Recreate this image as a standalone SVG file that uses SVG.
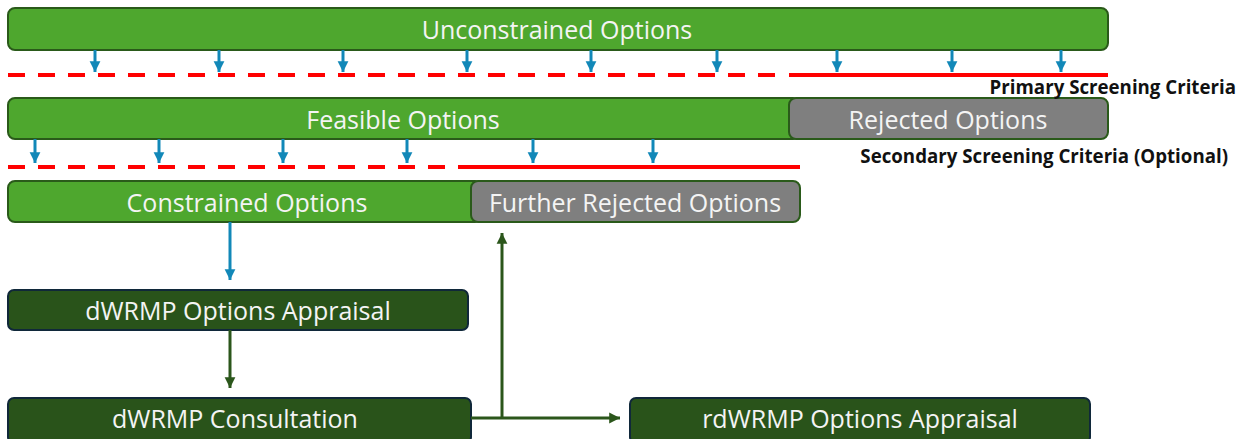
<svg xmlns="http://www.w3.org/2000/svg" width="1242" height="439" viewBox="0 0 1242 439">
<defs>
<marker id="ab" viewBox="0 0 10 10" refX="10" refY="5" markerWidth="3.6" markerHeight="4" markerUnits="strokeWidth" orient="auto"><path d="M0,0 L10,5 L0,10 z" fill="#1288b8"/></marker>
<marker id="ag" viewBox="0 0 10 10" refX="10" refY="5" markerWidth="3.6" markerHeight="4" markerUnits="strokeWidth" orient="auto"><path d="M0,0 L10,5 L0,10 z" fill="#2b561b"/></marker>
</defs>
<style>
.g{fill:#4ea72e;stroke:#2a5a1a;stroke-width:2}
.r{fill:#7f7f7f;stroke:#2a5a1a;stroke-width:2}
.d{fill:#29531a;stroke:#10283a;stroke-width:2}
.t{font-family:"Open Sans","Liberation Sans",sans-serif;font-size:25px;fill:#f4f4f4;text-anchor:middle;dominant-baseline:central}
.c{font-family:"Open Sans","Liberation Sans",sans-serif;font-size:18.7px;font-weight:bold;fill:#111}
.b{stroke:#1288b8;stroke-width:3;fill:none;marker-end:url(#ab)}
.k{stroke:#2b561b;stroke-width:3;fill:none}
.rd{stroke:#ff0000;stroke-width:4;fill:none}
</style>
<g id="unconstrained"><rect class="g" x="8" y="8" width="1100" height="42" rx="7"/><text class="t" x="557" y="29">Unconstrained Options</text></g>
<g id="feasible"><rect class="g" x="8" y="98" width="792" height="41" rx="7"/><text class="t" x="403" y="119">Feasible Options</text></g>
<g id="rejected"><rect class="r" x="789" y="98" width="319" height="41" rx="7"/><text class="t" x="948" y="119">Rejected Options</text></g>
<g id="constrained"><rect class="g" x="8" y="181" width="474" height="41" rx="7"/><text class="t" x="247" y="202">Constrained Options</text></g>
<g id="further-rejected"><rect class="r" x="471" y="181" width="329" height="41" rx="7"/><text class="t" x="635" y="202">Further Rejected Options</text></g>
<g id="appraisal"><rect class="d" x="8" y="290" width="460" height="40" rx="6"/><text class="t" x="238" y="310" font-size="24.5">dWRMP Options Appraisal</text></g>
<g id="consultation"><rect class="d" x="8" y="398" width="463" height="45" rx="6"/><text class="t" x="235" y="418" font-size="24.5">dWRMP Consultation</text></g>
<g id="rdwrmp"><rect class="d" x="630" y="398" width="460" height="45" rx="6"/><text class="t" x="860" y="418" font-size="24.5">rdWRMP Options Appraisal</text></g>
<g id="criteria">
<path class="rd" d="M8,75 H788" stroke-dasharray="17 13"/>
<path class="rd" d="M789,75 H1108"/>
<text class="c" x="1236" y="94" text-anchor="end">Primary Screening Criteria</text>
<path class="rd" d="M8,167 H458" stroke-dasharray="17 13"/>
<path class="rd" d="M458,167 H800"/>
<text class="c" x="1228" y="163" text-anchor="end">Secondary Screening Criteria (Optional)</text>
</g>
<g id="connectors">
<path class="b" d="M95,50 V72"/><path class="b" d="M219,50 V72"/><path class="b" d="M343,50 V72"/><path class="b" d="M467,50 V72"/><path class="b" d="M591,50 V72"/><path class="b" d="M717,50 V72"/><path class="b" d="M837,50 V72"/><path class="b" d="M952,50 V72"/><path class="b" d="M1061,50 V72"/>
<path class="b" d="M35,139 V163"/><path class="b" d="M159,139 V163"/><path class="b" d="M283,139 V163"/><path class="b" d="M407,139 V163"/><path class="b" d="M533,139 V163"/><path class="b" d="M653,139 V163"/>
<path class="b" d="M230,222 V280"/>
<path class="k" d="M230,330 V388" marker-end="url(#ag)"/>
<path class="k" d="M471,418 H620" marker-end="url(#ag)"/>
<path class="k" d="M502,418 V233" marker-end="url(#ag)"/>
</g>
</svg>
